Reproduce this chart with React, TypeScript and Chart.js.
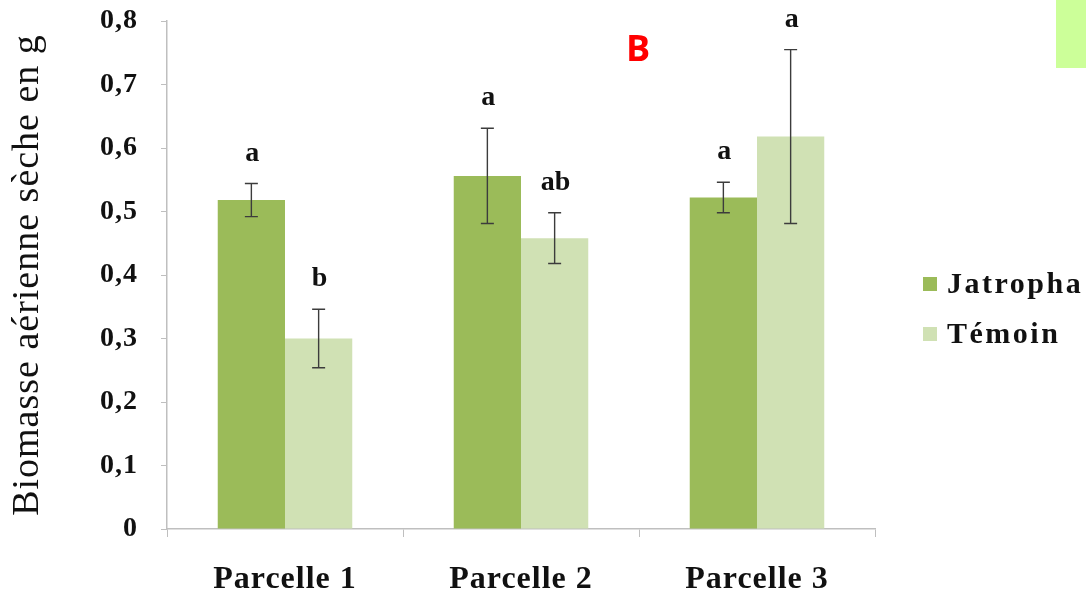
import React, { useEffect, useRef } from 'react';
import { Chart, registerables } from 'chart.js';

Chart.register(...registerables);

const categories = ['Parcelle 1', 'Parcelle 2', 'Parcelle 3'];
const seriesNames = ['Jatropha', 'Témoin'];
const jatropha = [0.518, 0.556, 0.522];
const temoin = [0.3, 0.458, 0.618];
const jatrophaErr = [0.026, 0.075, 0.024];
const temoinErr = [0.046, 0.04, 0.137];
const jatrophaLetters = ['a', 'a', 'a'];
const temoinLetters = ['b', 'ab', 'a'];
const yTickLabels = ['0', '0,1', '0,2', '0,3', '0,4', '0,5', '0,6', '0,7', '0,8'];
const yTitle = 'Biomasse aérienne sèche en g';
const panelLetter = 'B';

const colors = ['#9BBB59', '#D0E1B4'];
const errors = [jatrophaErr, temoinErr];
const letters = [jatrophaLetters, temoinLetters];
const values = [jatropha, temoin];

const SERIF = "'Liberation Serif', 'Times New Roman', serif";

const spacingPlugin = {
  id: 'spacing',
  beforeLayout(chart: any) {
    chart.ctx.letterSpacing = '1px';
  },
  beforeDraw(chart: any) {
    const ctx = chart.ctx;
    ctx.save();
    ctx.fillStyle = '#ffffff';
    ctx.fillRect(0, 0, chart.width, chart.height);
    ctx.restore();
    ctx.letterSpacing = '1px';
  },
};

const errorPlugin = {
  id: 'errorBars',
  afterDatasetsDraw(chart: any) {
    const ctx = chart.ctx;
    const yScale = chart.scales.y;
    ctx.save();
    for (let d = 0; d < chart.data.datasets.length; d++) {
      const meta = chart.getDatasetMeta(d);
      meta.data.forEach((bar: any, i: number) => {
        const v = values[d][i];
        const e = errors[d][i];
        const x = bar.x;
        const yTop = yScale.getPixelForValue(v + e);
        const yBot = yScale.getPixelForValue(v - e);
        ctx.strokeStyle = '#3c3c3c';
        ctx.lineWidth = 1.4;
        ctx.beginPath();
        ctx.moveTo(x, yTop);
        ctx.lineTo(x, yBot);
        ctx.moveTo(x - 6.5, yTop);
        ctx.lineTo(x + 6.5, yTop);
        ctx.moveTo(x - 6.5, yBot);
        ctx.lineTo(x + 6.5, yBot);
        ctx.stroke();
        ctx.fillStyle = '#111111';
        ctx.font = `bold 28px ${SERIF}`;
        ctx.letterSpacing = '0px';
        ctx.textAlign = 'center';
        ctx.textBaseline = 'alphabetic';
        ctx.fillText(letters[d][i], x + 1, yTop - 23);
      });
    }
    ctx.restore();
  },
};

const legendPlugin = {
  id: 'customLegend',
  afterDraw(chart: any) {
    const ctx = chart.ctx;
    const area = chart.chartArea;
    const x0 = area.right + 48;
    const ys = [area.top + 263, area.top + 313];
    ctx.save();
    ctx.font = `bold 30px ${SERIF}`;
    ctx.letterSpacing = '2.5px';
    ctx.textAlign = 'left';
    ctx.textBaseline = 'middle';
    seriesNames.forEach((name, i) => {
      ctx.fillStyle = colors[i];
      ctx.fillRect(x0, ys[i] - 7, 14, 14);
      ctx.fillStyle = '#111111';
      ctx.fillText(name, x0 + 24, ys[i] + 1);
    });
    ctx.restore();
  },
};

export default function App() {
  const canvasRef = useRef<HTMLCanvasElement | null>(null);

  useEffect(() => {
    if (!canvasRef.current) return;
    const chart = new Chart(canvasRef.current, {
      type: 'bar',
      data: {
        labels: categories,
        datasets: seriesNames.map((name, i) => ({
          label: name,
          data: values[i],
          backgroundColor: colors[i],
          borderWidth: 0,
          categoryPercentage: 0.57,
          barPercentage: 1.0,
        })),
      },
      options: {
        animation: false,
        responsive: true,
        maintainAspectRatio: false,
        layout: { padding: { top: 21, right: 211, bottom: 0, left: 0 } },
        plugins: {
          legend: { display: false },
          tooltip: { enabled: false },
        },
        scales: {
          x: {
            grid: {
              display: true,
              drawOnChartArea: false,
              drawTicks: true,
              tickLength: 8,
              offset: true,
              color: '#BFBFBF',
            },
            border: { display: true, color: '#BFBFBF', width: 1.5 },
            ticks: {
              color: '#111111',
              padding: 24,
              font: { family: SERIF, size: 32, weight: 'bold' },
            },
            afterFit(scale: any) {
              scale.height = 66;
              scale.paddingLeft = 0;
              scale.paddingRight = 0;
            },
          },
          y: {
            min: 0,
            max: 0.8,
            grid: {
              display: true,
              drawOnChartArea: false,
              drawTicks: true,
              tickLength: 6,
              color: '#BFBFBF',
            },
            border: { display: true, color: '#BFBFBF', width: 1.5 },
            ticks: {
              stepSize: 0.1,
              color: '#111111',
              padding: 23,
              font: { family: SERIF, size: 28, weight: 'bold' },
              callback: (_v: any, i: number) => yTickLabels[i],
            },
            title: {
              display: true,
              text: yTitle,
              color: '#111111',
              font: { family: SERIF, size: 38, weight: 'normal' },
              padding: { top: 5, bottom: 0 },
            },
            afterFit(scale: any) {
              scale.width = 167;
              scale.paddingTop = 0;
              scale.paddingBottom = 0;
            },
          },
        },
      },
      plugins: [spacingPlugin, errorPlugin, legendPlugin],
    });
    return () => chart.destroy();
  }, []);

  return (
    <div style={{ position: 'absolute', left: 0, top: 0, width: 1086, height: 595, background: '#fff' }}>
      <canvas ref={canvasRef} />
      <div
        style={{
          position: 'absolute',
          left: 626,
          top: 26,
          color: '#FF0000',
          fontFamily: "'Open Sans', 'Liberation Sans', sans-serif",
          fontWeight: 700,
          fontSize: 36,
          lineHeight: '44px',
        }}
      >
        {panelLetter}
      </div>
      <div
        style={{
          position: 'absolute',
          left: 1056,
          top: 0,
          width: 30,
          height: 68,
          background: '#CCFF99',
        }}
      />
    </div>
  );
}
